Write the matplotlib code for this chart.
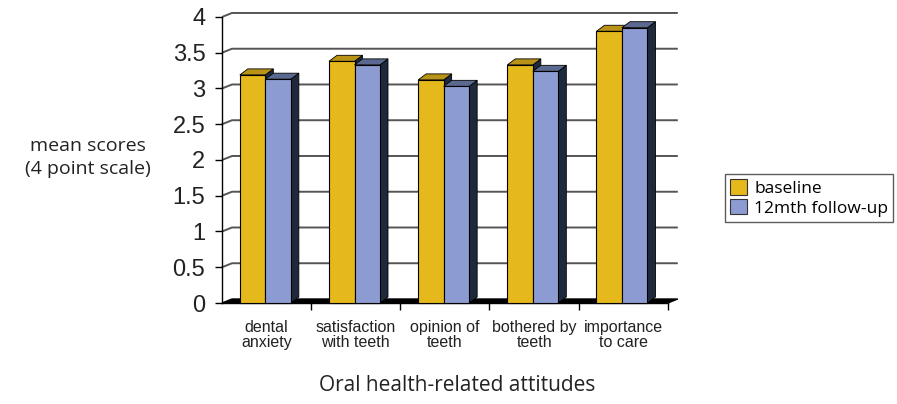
import numpy as np
import matplotlib.pyplot as plt
from matplotlib.patches import Polygon, Rectangle

categories = ["dental\nanxiety", "satisfaction\nwith teeth", "opinion of\nteeth",
              "bothered by\nteeth", "importance\nto care"]
baseline = [3.19, 3.38, 3.12, 3.33, 3.80]
followup = [3.13, 3.33, 3.03, 3.24, 3.85]
yticks = [0, 0.5, 1, 1.5, 2, 2.5, 3, 3.5, 4]

gold, gold_top = "#E5B81B", "#B89318"
blue, blue_top = "#8C9BD2", "#5B6890"
side = "#1E2A3C"

fig = plt.figure(figsize=(8.97, 4.04), dpi=100)
ax = fig.add_axes([0.2475, 0.25, 0.497, 0.708])
ax.set_xlim(0, 5)
ax.set_ylim(0, 4)

# pixel -> data helpers for the fake 3d depth
px_x = 5 / 446
px_y = 4 / 286
bdx, bdy = 8 * px_x, 6 * px_y      # bar depth
wdx, wdy = 10 * px_x, 4 * px_y     # wall depth

# back wall gridlines
for v in yticks[1:]:
    ax.plot([0, wdx, 5 + wdx], [v, v + wdy, v + wdy], color="#555555", lw=1.4,
            clip_on=False, zorder=1, solid_capstyle="butt")

# black floor
ax.add_patch(Polygon([(0, 0), (5, 0), (5 + wdx, wdy), (wdx, wdy)], closed=True,
                     facecolor="black", edgecolor="black", clip_on=False, zorder=2))

bw = 0.286


def bar3d(x0, h, face, top):
    ax.add_patch(Polygon([(x0 + bw, 0), (x0 + bw + bdx, bdy), (x0 + bw + bdx, h + bdy), (x0 + bw, h)],
                         closed=True, facecolor=side, edgecolor="black", lw=0.6, clip_on=False, zorder=3))
    ax.add_patch(Polygon([(x0, h), (x0 + bdx, h + bdy), (x0 + bw + bdx, h + bdy), (x0 + bw, h)],
                         closed=True, facecolor=top, edgecolor="black", lw=0.6, clip_on=False, zorder=3))
    ax.add_patch(Rectangle((x0, 0), bw, h, facecolor=face, edgecolor="black", lw=0.8,
                           clip_on=False, zorder=3))


for i in range(len(categories)):
    bar3d(i + 0.2, baseline[i], gold, gold_top)
    bar3d(i + 0.2 + bw, followup[i], blue, blue_top)

for s in ["top", "right"]:
    ax.spines[s].set_visible(False)
ax.spines["left"].set_linewidth(1.0)
ax.spines["bottom"].set_linewidth(1.0)

ax.set_yticks(yticks)
ax.set_yticklabels(["0", "0.5", "1", "1.5", "2", "2.5", "3", "3.5", "4"],
                   fontsize=17, family="Liberation Sans", color="#222222")
ax.tick_params(axis="y", length=5, width=1, pad=7)

ax.set_xticks(np.arange(5) + 0.5)
ax.set_xticklabels(categories, fontsize=11.5, family="Liberation Sans",
                   linespacing=1.05, color="#222222")
ax.set_xticks(np.arange(1, 6), minor=True)
ax.tick_params(axis="x", which="major", length=0, pad=12)
ax.tick_params(axis="x", which="minor", length=5, width=1)

fig.text(0.098, 0.61, "mean scores\n(4 point scale)", ha="center", va="center",
         fontsize=14, family="Open Sans", linespacing=1.38, color="#222222")
fig.text(0.51, 0.045, "Oral health-related attitudes", ha="center", va="center",
         fontsize=15, family="Open Sans", color="#222222")

h1 = Rectangle((0, 0), 1, 1, facecolor=gold, edgecolor="#333333", lw=0.8)
h2 = Rectangle((0, 0), 1, 1, facecolor=blue, edgecolor="#333333", lw=0.8)
leg = fig.legend([h1, h2], ["baseline", "12mth follow-up"], loc="center left",
                 bbox_to_anchor=(0.808, 0.51), frameon=True, fancybox=False,
                 prop={"family": "Open Sans", "size": 12.5}, handlelength=1.0,
                 handleheight=1.0, handletextpad=0.4, borderpad=0.3,
                 labelspacing=0.1, borderaxespad=0)
leg.get_frame().set_edgecolor("#333333")
leg.get_frame().set_linewidth(1.0)

fig.savefig("out.png", dpi=100)
